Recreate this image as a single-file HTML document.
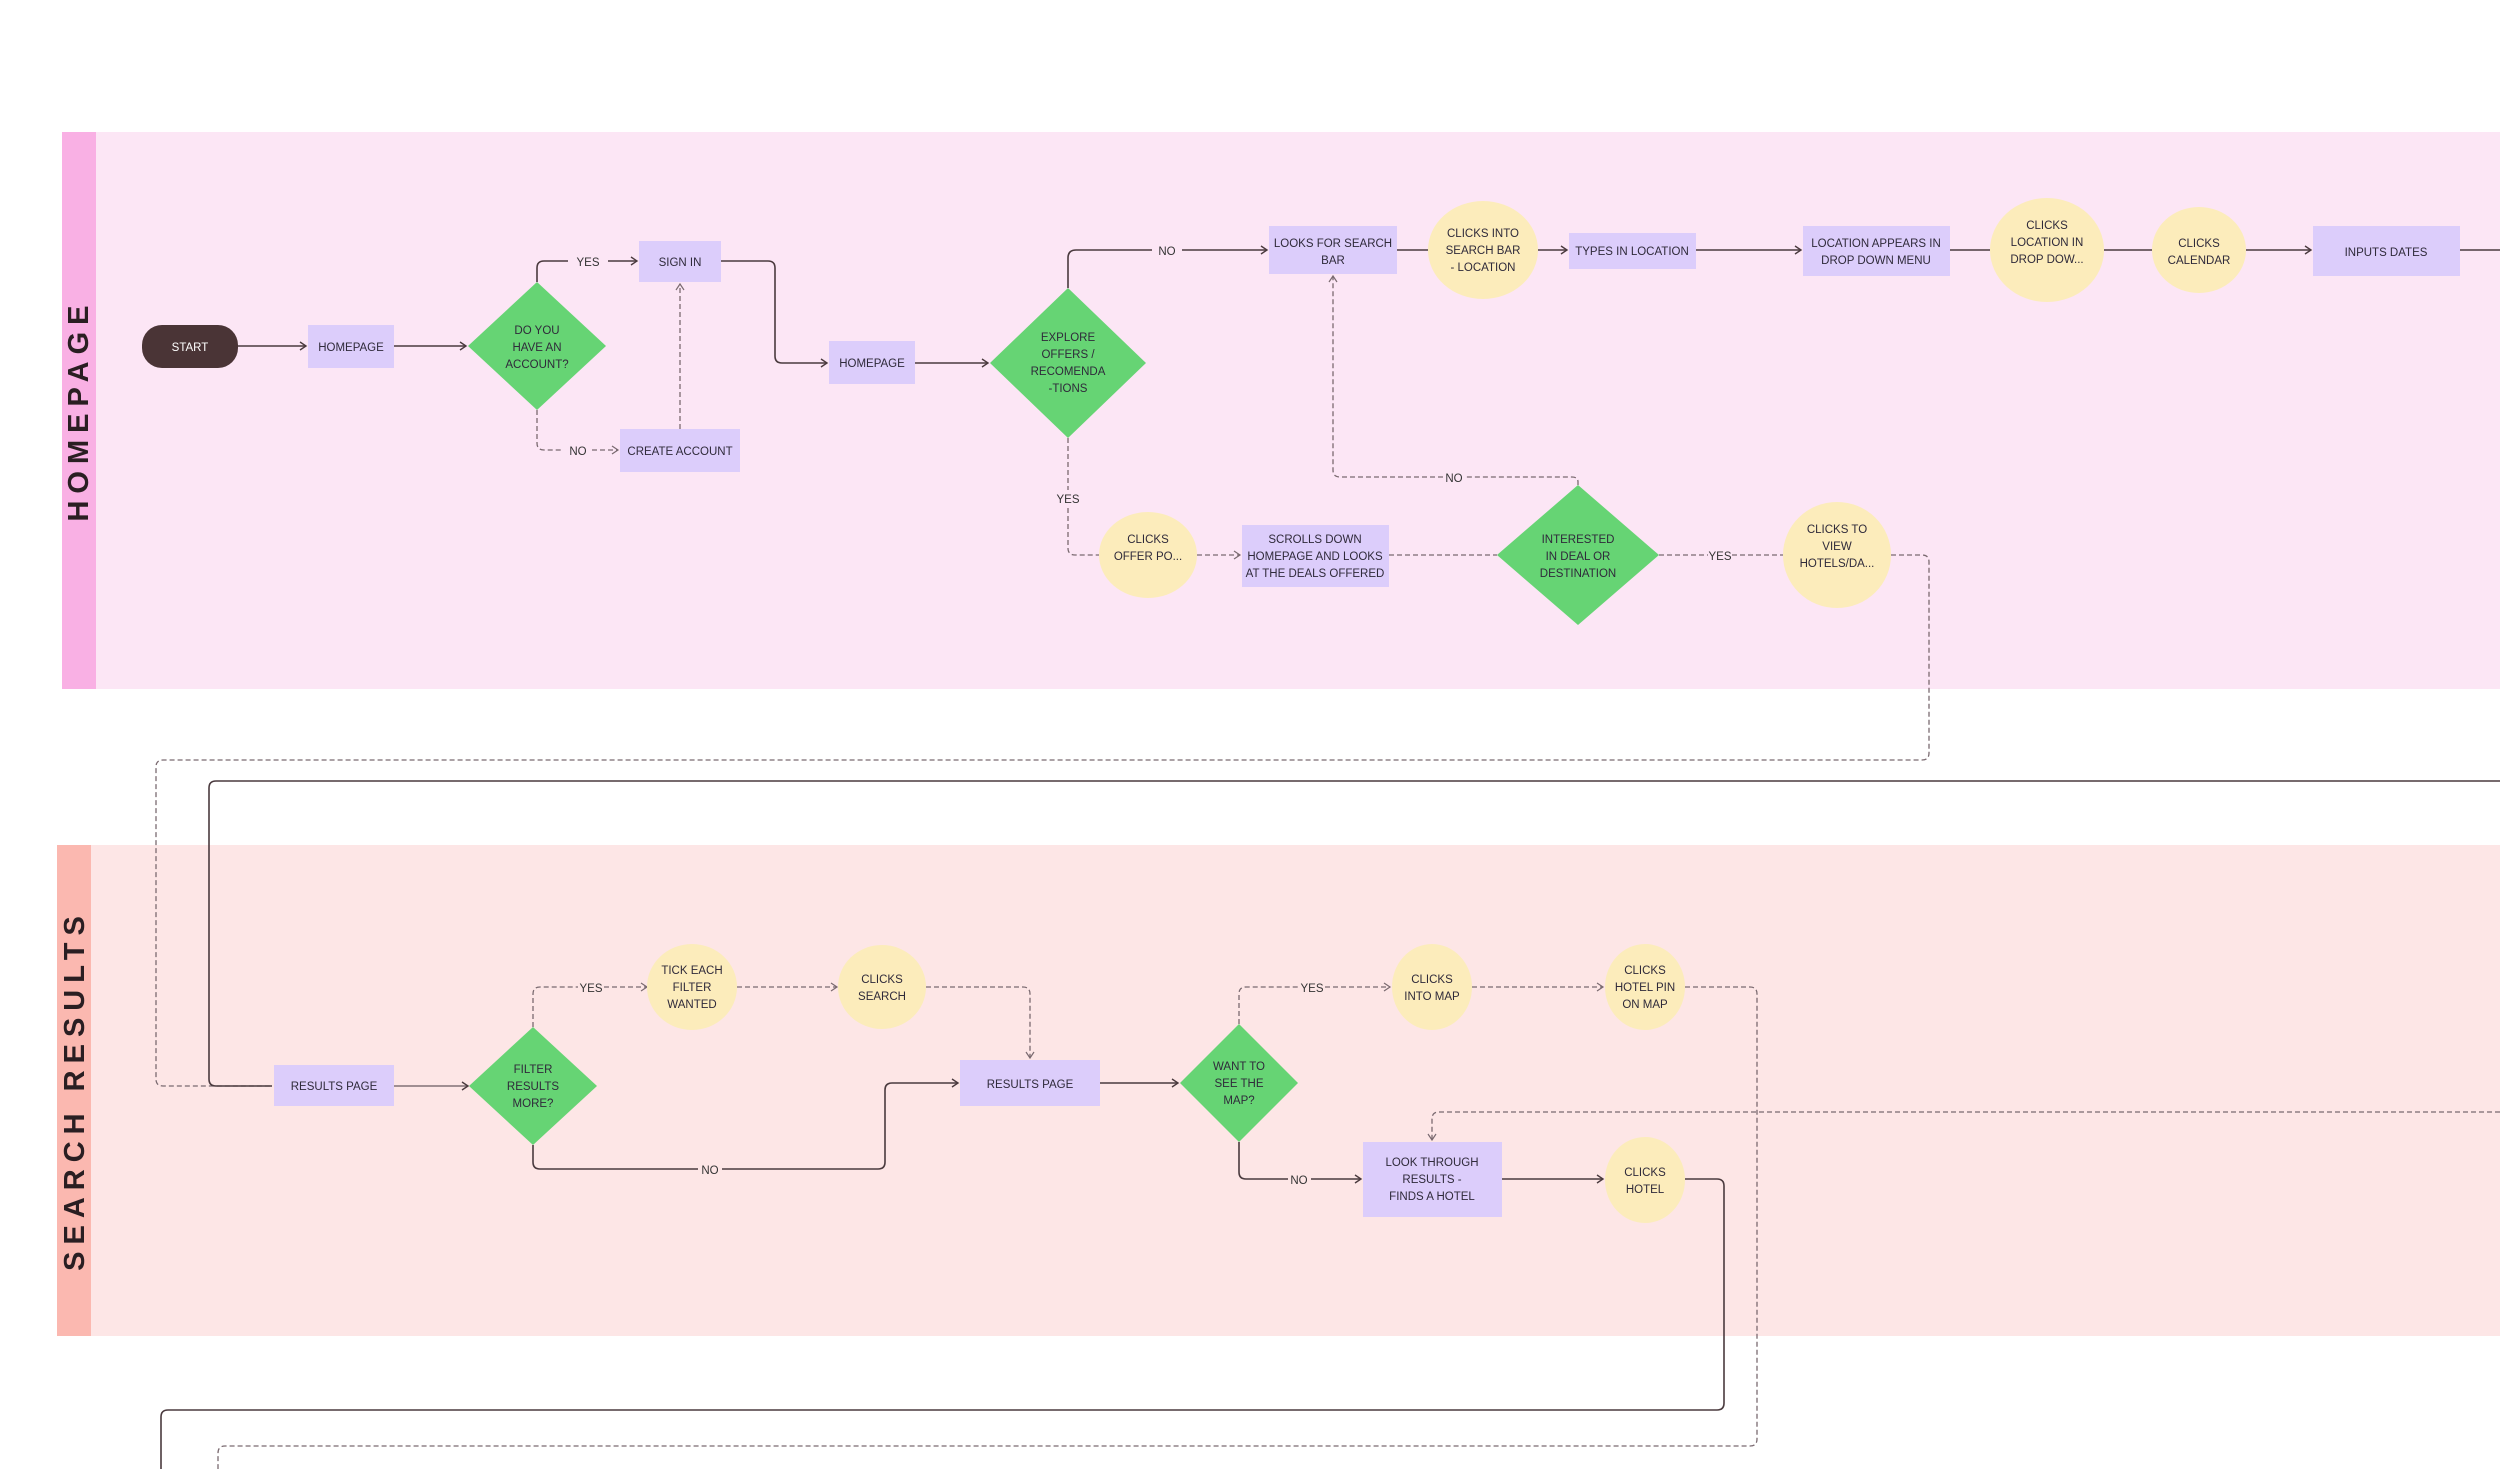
<!DOCTYPE html>
<html><head><meta charset="utf-8"><style>
html,body{margin:0;padding:0;background:#fff;}
svg{display:block;font-family:"Liberation Sans",sans-serif;}
.t{font-size:11.5px;fill:#2f2a3a;text-anchor:middle;}
.l{font-size:11.5px;fill:#333;text-anchor:middle;}
.s{stroke:#4a3a3e;stroke-width:1.6;fill:none;}
.d{stroke:#7a6a70;stroke-width:1.3;fill:none;stroke-dasharray:5 3;}
.box{fill:#dccdfb;}
.dia{fill:#66d474;}
.ell{fill:#fcecbb;}
</style></head><body>
<svg width="2500" height="1469" viewBox="0 0 2500 1469" xmlns="http://www.w3.org/2000/svg">
<defs>
<marker id="a" markerWidth="10" markerHeight="10" refX="8" refY="5" orient="auto" markerUnits="userSpaceOnUse"><path d="M2,1 L8,5 L2,9" fill="none" stroke="#4a3a3e" stroke-width="1.4"/></marker>
<marker id="b" markerWidth="10" markerHeight="10" refX="8" refY="5" orient="auto" markerUnits="userSpaceOnUse"><path d="M2,1 L8,5 L2,9" fill="none" stroke="#7a6a70" stroke-width="1.2"/></marker>
</defs>
<rect x="62" y="132" width="2438" height="557" fill="#fce6f5"/>
<rect x="62" y="132" width="34" height="557" fill="#f9b0e4"/>
<text transform="translate(88,410) rotate(-90)" font-size="29" font-weight="bold" letter-spacing="7" fill="#2a1e22" text-anchor="middle">HOMEPAGE</text>
<rect x="57" y="845" width="2443" height="491" fill="#fde6e6"/>
<rect x="57" y="845" width="34" height="491" fill="#fbb8b0"/>
<text transform="translate(84,1090) rotate(-90)" font-size="29" font-weight="bold" letter-spacing="7" fill="#2a1e22" text-anchor="middle">SEARCH  RESULTS</text>

<path class="s" d="M238,346 H306" marker-end="url(#a)"/>
<path class="s" d="M394,346 H466" marker-end="url(#a)"/>
<path class="s" d="M537,282 V268 Q537,261 544,261 H568"/>
<path class="s" d="M608,261 H637" marker-end="url(#a)"/>
<text class="l" x="588" y="266">YES</text>
<path class="d" d="M537,410 V443 Q537,450 544,450 H563"/>
<path class="d" d="M592,450 H618" marker-end="url(#b)"/>
<text class="l" x="578" y="455">NO</text>
<path class="d" d="M680,429 V284" marker-end="url(#b)"/>
<path class="s" d="M721,261 H768 Q775,261 775,268 V356 Q775,363 782,363 H827" marker-end="url(#a)"/>
<path class="s" d="M915,363 H988" marker-end="url(#a)"/>
<path class="s" d="M1068,288 V258 Q1068,250 1076,250 H1152"/>
<path class="s" d="M1182,250 H1267" marker-end="url(#a)"/>
<text class="l" x="1167" y="255">NO</text>
<path class="s" d="M1397,250 H1428"/>
<path class="s" d="M1538,250 H1567" marker-end="url(#a)"/>
<path class="s" d="M1696,250 H1801" marker-end="url(#a)"/>
<path class="s" d="M1950,250 H1990"/>
<path class="s" d="M2104,250 H2152"/>
<path class="s" d="M2246,250 H2311" marker-end="url(#a)"/>
<path class="s" d="M2460,250 H2500"/>
<path class="d" d="M1068,438 V490"/>
<path class="d" d="M1068,508 V548 Q1068,555 1075,555 H1099"/>
<text class="l" x="1068" y="503">YES</text>
<path class="d" d="M1197,555 H1240" marker-end="url(#b)"/>
<path class="d" d="M1389,555 H1497"/>
<path class="d" d="M1659,555 H1708"/>
<path class="d" d="M1732,555 H1783"/>
<text class="l" x="1720" y="560">YES</text>
<path class="d" d="M1578,485 V482 Q1578,477 1572,477 H1465"/>
<path class="d" d="M1443,477 H1340 Q1333,477 1333,470 V276" marker-end="url(#b)"/>
<text class="l" x="1454" y="482">NO</text>
<path class="d" d="M1891,555 H1922 Q1929,555 1929,562 V753 Q1929,760 1922,760 H163 Q156,760 156,767 V1079 Q156,1086 163,1086 H272"/>
<path class="s" d="M2500,781 H216 Q209,781 209,788 V1079 Q209,1086 216,1086 H272"/>

<rect x="142" y="325" width="96" height="43" rx="20" fill="#4a3436"/>
<text class="t" x="190" y="351" style="fill:#fff">START</text>
<rect class="box" x="308" y="325" width="86" height="43"/>
<text class="t" x="351" y="351">HOMEPAGE</text>
<polygon class="dia" points="537,282 606,346 537,410 468,346"/>
<text class="t" x="537" y="334">DO YOU</text><text class="t" x="537" y="351">HAVE AN</text><text class="t" x="537" y="368">ACCOUNT?</text>
<rect class="box" x="639" y="241" width="82" height="41"/>
<text class="t" x="680" y="266">SIGN IN</text>
<rect class="box" x="620" y="429" width="120" height="43"/>
<text class="t" x="680" y="455">CREATE ACCOUNT</text>
<rect class="box" x="829" y="341" width="86" height="43"/>
<text class="t" x="872" y="367">HOMEPAGE</text>
<polygon class="dia" points="1068,288 1146,363 1068,438 990,363"/>
<text class="t" x="1068" y="341">EXPLORE</text><text class="t" x="1068" y="358">OFFERS /</text><text class="t" x="1068" y="375">RECOMENDA</text><text class="t" x="1068" y="392">-TIONS</text>
<rect class="box" x="1269" y="226" width="128" height="48"/>
<text class="t" x="1333" y="247">LOOKS FOR SEARCH</text><text class="t" x="1333" y="264">BAR</text>
<ellipse class="ell" cx="1483" cy="250" rx="55" ry="49"/>
<text class="t" x="1483" y="237">CLICKS INTO</text><text class="t" x="1483" y="254">SEARCH BAR</text><text class="t" x="1483" y="271">- LOCATION</text>
<rect class="box" x="1569" y="233" width="127" height="36"/>
<text class="t" x="1632" y="255">TYPES IN LOCATION</text>
<rect class="box" x="1803" y="226" width="147" height="50"/>
<text class="t" x="1876" y="247">LOCATION APPEARS IN</text><text class="t" x="1876" y="264">DROP DOWN MENU</text>
<ellipse class="ell" cx="2047" cy="250" rx="57" ry="52"/>
<text class="t" x="2047" y="229">CLICKS</text><text class="t" x="2047" y="246">LOCATION IN</text><text class="t" x="2047" y="263">DROP DOW...</text>
<ellipse class="ell" cx="2199" cy="250" rx="47" ry="43"/>
<text class="t" x="2199" y="247">CLICKS</text><text class="t" x="2199" y="264">CALENDAR</text>
<rect class="box" x="2313" y="226" width="147" height="50"/>
<text class="t" x="2386" y="256">INPUTS DATES</text>
<ellipse class="ell" cx="1148" cy="555" rx="49" ry="43"/>
<text class="t" x="1148" y="543">CLICKS</text><text class="t" x="1148" y="560">OFFER PO...</text>
<rect class="box" x="1242" y="525" width="147" height="62"/>
<text class="t" x="1315" y="543">SCROLLS DOWN</text><text class="t" x="1315" y="560">HOMEPAGE AND LOOKS</text><text class="t" x="1315" y="577">AT THE DEALS OFFERED</text>
<polygon class="dia" points="1578,485 1659,555 1578,625 1497,555"/>
<text class="t" x="1578" y="543">INTERESTED</text><text class="t" x="1578" y="560">IN DEAL OR</text><text class="t" x="1578" y="577">DESTINATION</text>
<ellipse class="ell" cx="1837" cy="555" rx="54" ry="53"/>
<text class="t" x="1837" y="533">CLICKS TO</text><text class="t" x="1837" y="550">VIEW</text><text class="t" x="1837" y="567">HOTELS/DA...</text>

<path class="s" style="stroke-width:1.2;stroke:#6a5a60" d="M394,1086 H468" marker-end="url(#a)"/>
<path class="d" d="M533,1027 V994 Q533,987 540,987 H578"/>
<path class="d" d="M604,987 H647" marker-end="url(#b)"/>
<text class="l" x="591" y="992">YES</text>
<path class="d" d="M737,987 H837" marker-end="url(#b)"/>
<path class="d" d="M926,987 H1023 Q1030,987 1030,994 V1058" marker-end="url(#b)"/>
<path class="s" d="M533,1145 V1162 Q533,1169 540,1169 H698"/>
<path class="s" d="M722,1169 H878 Q885,1169 885,1162 V1090 Q885,1083 892,1083 H958" marker-end="url(#a)"/>
<text class="l" x="710" y="1174">NO</text>
<path class="s" d="M1100,1083 H1178" marker-end="url(#a)"/>
<path class="d" d="M1239,1024 V994 Q1239,987 1246,987 H1300"/>
<path class="d" d="M1325,987 H1390" marker-end="url(#b)"/>
<text class="l" x="1312" y="992">YES</text>
<path class="d" d="M1472,987 H1603" marker-end="url(#b)"/>
<path class="s" d="M1239,1142 V1172 Q1239,1179 1246,1179 H1288"/>
<path class="s" d="M1311,1179 H1361" marker-end="url(#a)"/>
<text class="l" x="1299" y="1184">NO</text>
<path class="s" d="M1502,1179 H1603" marker-end="url(#a)"/>
<path class="d" d="M2500,1112 H1439 Q1432,1112 1432,1119 V1140" marker-end="url(#b)"/>
<path class="s" d="M1685,1179 H1717 Q1724,1179 1724,1186 V1403 Q1724,1410 1717,1410 H168 Q161,1410 161,1417 V1469"/>
<path class="d" d="M1685,987 H1750 Q1757,987 1757,994 V1439 Q1757,1446 1750,1446 H225 Q218,1446 218,1453 V1469"/>

<rect class="box" x="274" y="1065" width="120" height="41"/>
<text class="t" x="334" y="1090">RESULTS PAGE</text>
<polygon class="dia" points="533,1027 597,1086 533,1145 469,1086"/>
<text class="t" x="533" y="1073">FILTER</text><text class="t" x="533" y="1090">RESULTS</text><text class="t" x="533" y="1107">MORE?</text>
<ellipse class="ell" cx="692" cy="987" rx="45" ry="43"/>
<text class="t" x="692" y="974">TICK EACH</text><text class="t" x="692" y="991">FILTER</text><text class="t" x="692" y="1008">WANTED</text>
<ellipse class="ell" cx="882" cy="987" rx="44" ry="42"/>
<text class="t" x="882" y="983">CLICKS</text><text class="t" x="882" y="1000">SEARCH</text>
<rect class="box" x="960" y="1060" width="140" height="46"/>
<text class="t" x="1030" y="1088">RESULTS PAGE</text>
<polygon class="dia" points="1239,1024 1298,1083 1239,1142 1180,1083"/>
<text class="t" x="1239" y="1070">WANT TO</text><text class="t" x="1239" y="1087">SEE THE</text><text class="t" x="1239" y="1104">MAP?</text>
<ellipse class="ell" cx="1432" cy="987" rx="40" ry="43"/>
<text class="t" x="1432" y="983">CLICKS</text><text class="t" x="1432" y="1000">INTO MAP</text>
<ellipse class="ell" cx="1645" cy="987" rx="40" ry="43"/>
<text class="t" x="1645" y="974">CLICKS</text><text class="t" x="1645" y="991">HOTEL PIN</text><text class="t" x="1645" y="1008">ON MAP</text>
<rect class="box" x="1363" y="1142" width="139" height="75"/>
<text class="t" x="1432" y="1166">LOOK THROUGH</text><text class="t" x="1432" y="1183">RESULTS -</text><text class="t" x="1432" y="1200">FINDS A HOTEL</text>
<ellipse class="ell" cx="1645" cy="1180" rx="40" ry="43"/>
<text class="t" x="1645" y="1176">CLICKS</text><text class="t" x="1645" y="1193">HOTEL</text>
</svg>
</body></html>
